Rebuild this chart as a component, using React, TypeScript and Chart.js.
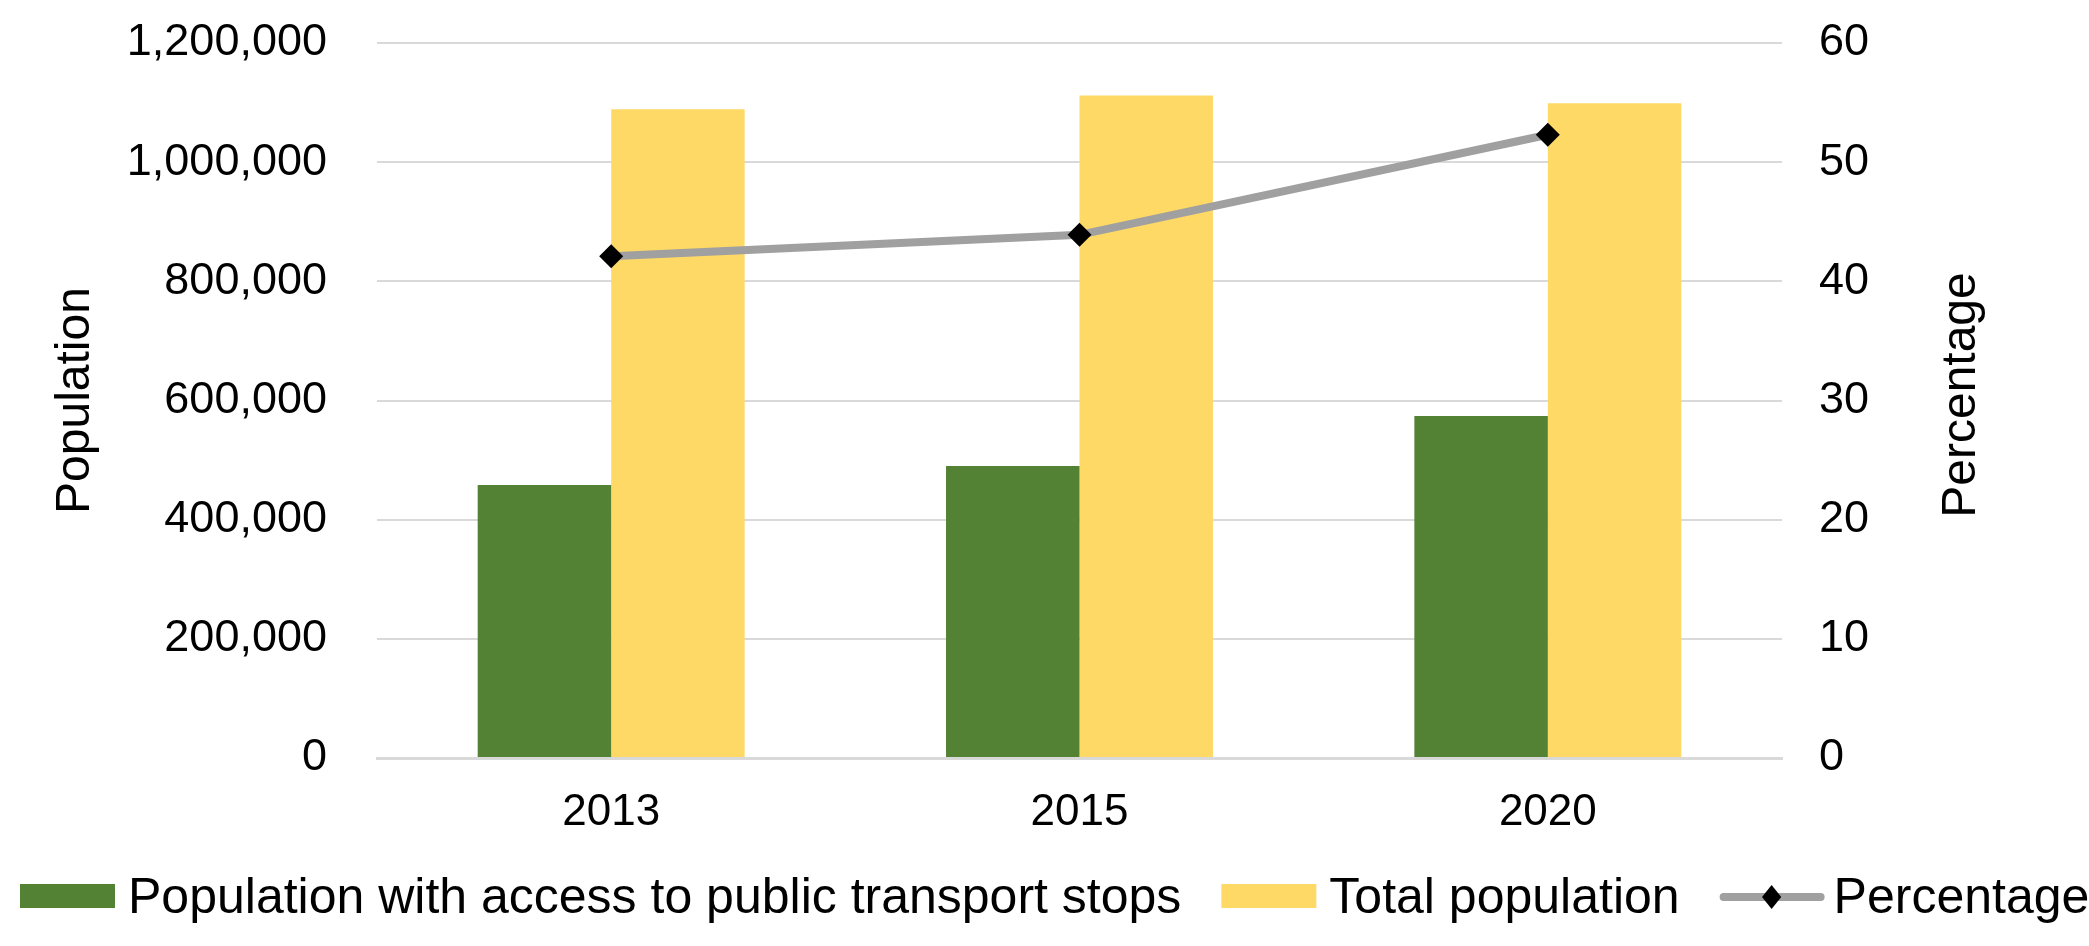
import React, { useEffect, useRef } from "react";
import { Chart, registerables } from "chart.js";

Chart.register(...registerables);

const categories = ["2013", "2015", "2020"];
const accessPopulation = [458000, 490000, 574000];
const totalPopulation = [1089000, 1112000, 1099000];
const percentage = [42.1, 43.9, 52.3];
const populationTicks = [0, 200000, 400000, 600000, 800000, 1000000, 1200000];

const seriesNames = [
  "Population with access to public transport stops",
  "Total population",
  "Percentage",
];
const leftTitle = "Population";
const rightTitle = "Percentage";

const GREEN = "#548235";
const YELLOW = "#FFD966";
const GREY = "#A0A0A0";
const GRID = "#D9D9D9";
const FONT = "'Liberation Sans', Arial, sans-serif";

const customDraw = {
  id: "customDraw",
  afterDraw(chart: any) {
    const ctx = chart.ctx as CanvasRenderingContext2D;
    ctx.save();
    ctx.font = `48px ${FONT}`;
    ctx.fillStyle = "#000";
    ctx.textAlign = "center";
    ctx.textBaseline = "middle";
    ctx.translate(1962, 395);
    ctx.rotate(-Math.PI / 2);
    ctx.fillText(rightTitle, 0, 0);
    ctx.restore();

    ctx.save();
    ctx.font = `50px ${FONT}`;
    ctx.fillStyle = "#000";
    ctx.textAlign = "left";
    ctx.textBaseline = "alphabetic";
    const baseline = 913;
    const boxY = 884;
    const boxH = 24;
    let x = 20;
    const colors = [GREEN, YELLOW];
    for (let i = 0; i < 2; i++) {
      ctx.fillStyle = colors[i];
      ctx.fillRect(x, boxY, 95, boxH);
      x += 95 + 13;
      ctx.fillStyle = "#000";
      ctx.fillText(seriesNames[i], x, baseline);
      x += ctx.measureText(seriesNames[i]).width + 40;
    }
    const cy = 897;
    ctx.strokeStyle = GREY;
    ctx.lineWidth = 8;
    ctx.lineCap = "round";
    ctx.beginPath();
    ctx.moveTo(x + 4, cy);
    ctx.lineTo(x + 101, cy);
    ctx.stroke();
    const cx = x + 52;
    const r = 12;
    ctx.fillStyle = "#000";
    ctx.beginPath();
    ctx.moveTo(cx - r * 0.8, cy);
    ctx.lineTo(cx, cy - r);
    ctx.lineTo(cx + r * 0.8, cy);
    ctx.lineTo(cx, cy + r);
    ctx.closePath();
    ctx.fill();
    x += 105 + 9;
    ctx.fillText(seriesNames[2], x, baseline);
    ctx.restore();
  },
};

export default function App() {
  const ref = useRef<HTMLCanvasElement | null>(null);

  useEffect(() => {
    document.body.style.margin = "0";
    const canvas = ref.current;
    if (!canvas) return;
    const chart = new Chart(canvas, {
      type: "bar",
      data: {
        labels: categories,
        datasets: [
          {
            type: "line",
            label: seriesNames[2],
            data: percentage,
            yAxisID: "y1",
            borderColor: GREY,
            borderWidth: 8,
            pointStyle: "rectRot",
            pointRadius: 12,
            pointBackgroundColor: "#000",
            pointBorderColor: "#000",
            pointBorderWidth: 0,
            tension: 0,
            order: 0,
          } as any,
          {
            type: "bar",
            label: seriesNames[0],
            data: accessPopulation,
            yAxisID: "y",
            backgroundColor: GREEN,
            categoryPercentage: 0.57,
            barPercentage: 1.0,
            order: 1,
          },
          {
            type: "bar",
            label: seriesNames[1],
            data: totalPopulation,
            yAxisID: "y",
            backgroundColor: YELLOW,
            categoryPercentage: 0.57,
            barPercentage: 1.0,
            order: 1,
          },
        ],
      },
      options: {
        responsive: true,
        maintainAspectRatio: false,
        animation: false,
        layout: { padding: { top: 43, left: 0, right: 0, bottom: 0 } },
        plugins: {
          legend: { display: false },
          tooltip: { enabled: false },
        },
        scales: {
          x: {
            grid: { display: false, drawTicks: false },
            border: { display: true, color: GRID, width: 3 },
            ticks: {
              color: "#000",
              font: { family: FONT, size: 44 },
              padding: 28,
            },
            afterFit: (s: any) => {
              s.height = 188;
              s.paddingLeft = 0;
              s.paddingRight = 0;
            },
          },
          y: {
            position: "left",
            min: 0,
            max: 1200000,
            afterBuildTicks: (s: any) => {
              s.ticks = populationTicks.map((v) => ({ value: v }));
            },
            grid: { color: GRID, lineWidth: 2, drawTicks: false },
            border: { display: false },
            ticks: {
              color: "#000",
              font: { family: FONT, size: 45 },
              padding: 50,
              callback: (v: any) => Number(v).toLocaleString("en-US"),
            },
            title: {
              display: true,
              text: leftTitle,
              color: "#000",
              font: { family: FONT, size: 48 },
              padding: { top: 47, bottom: 0 },
            },
            afterFit: (s: any) => {
              s.width = 377;
              s.paddingTop = 0;
              s.paddingBottom = 0;
            },
          },
          y1: {
            position: "right",
            min: 0,
            max: 60,
            ticks: {
              stepSize: 10,
              color: "#000",
              font: { family: FONT, size: 45 },
              padding: 37,
            },
            grid: { display: false, drawTicks: false },
            border: { display: false },
            afterFit: (s: any) => {
              s.width = 307;
              s.paddingTop = 0;
              s.paddingBottom = 0;
            },
          },
        },
      },
      plugins: [customDraw],
    });
    return () => chart.destroy();
  }, []);

  return (
    <div style={{ width: 2089, height: 946, position: "relative" }}>
      <canvas ref={ref} />
    </div>
  );
}
